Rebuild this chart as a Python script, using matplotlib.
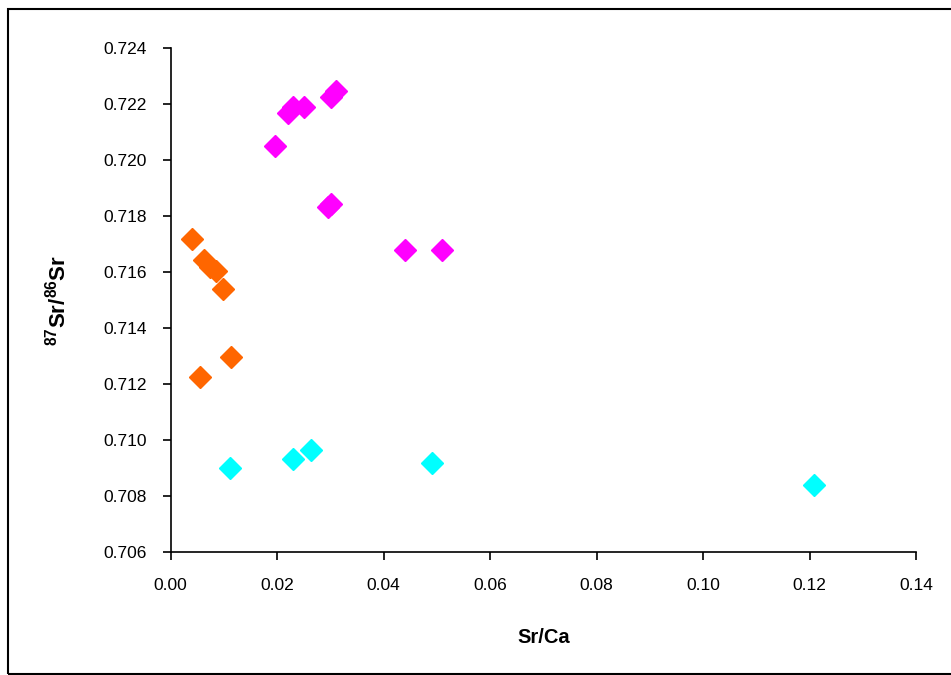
import matplotlib
matplotlib.use("Agg")
import matplotlib.pyplot as plt
from matplotlib.patches import Rectangle

plt.rcParams['font.family'] = ['Liberation Sans', 'DejaVu Sans']
plt.rcParams['mathtext.fontset'] = 'custom'
plt.rcParams['mathtext.rm'] = 'Liberation Sans'
plt.rcParams['mathtext.bf'] = 'Liberation Sans:bold'

# Data
magenta_x = [0.0310, 0.0302, 0.0251, 0.0230, 0.0220, 0.0196, 0.0301, 0.0295, 0.0440, 0.0510]
magenta_y = [0.72248, 0.72225, 0.72191, 0.72191, 0.72170, 0.72052, 0.71842, 0.71834, 0.71680, 0.71679]
orange_x = [0.0040, 0.0063, 0.0074, 0.0085, 0.0098, 0.0113, 0.0055]
orange_y = [0.71717, 0.71643, 0.71619, 0.71604, 0.71538, 0.71296, 0.71225]
cyan_x = [0.0112, 0.0230, 0.0264, 0.0490, 0.1208]
cyan_y = [0.70900, 0.70930, 0.70964, 0.70916, 0.70838]

x_ticks = [0.00, 0.02, 0.04, 0.06, 0.08, 0.10, 0.12, 0.14]
y_ticks = [0.706, 0.708, 0.710, 0.712, 0.714, 0.716, 0.718, 0.720, 0.722, 0.724]

fig = plt.figure(figsize=(9.51, 6.75), dpi=100)
ax = fig.add_axes([0.1795, 0.1828, 0.9632 - 0.1795, 0.9283 - 0.1828])

ms = 11
for xs, ys, c in [(orange_x, orange_y, '#FF6600'),
                  (magenta_x, magenta_y, '#FF00FF'),
                  (cyan_x, cyan_y, '#00FFFF')]:
    ax.plot(xs, ys, linestyle='none', marker='D', markersize=ms,
            color=c, markeredgecolor=c, clip_on=False)

ax.set_xlim(0, 0.14)
ax.set_ylim(0.706, 0.724)
ax.set_xticks(x_ticks)
ax.set_yticks(y_ticks)
ax.set_xticklabels([f"{v:.2f}" for v in x_ticks])
ax.set_yticklabels([f"{v:.3f}" for v in y_ticks])

for s in ['top', 'right']:
    ax.spines[s].set_visible(False)
for s in ['left', 'bottom']:
    ax.spines[s].set_linewidth(1.2)
ax.tick_params(axis='both', direction='out', length=6, width=1.2, labelsize=12.5)
ax.tick_params(axis='y', pad=11)
ax.tick_params(axis='x', pad=13)

ax.set_xlabel('Sr/Ca', fontsize=14.5, fontweight='bold', labelpad=25)
ax.set_ylabel(r'$\mathbf{^{87}Sr/^{86}Sr}$', fontsize=16, labelpad=24)

# outer border
fig.patches.append(Rectangle((8 / 951, 1 / 675), 1.2, (675 - 10) / 675,
                             transform=fig.transFigure, fill=False,
                             edgecolor='black', linewidth=1.5))

fig.savefig('out.png', dpi=100)
